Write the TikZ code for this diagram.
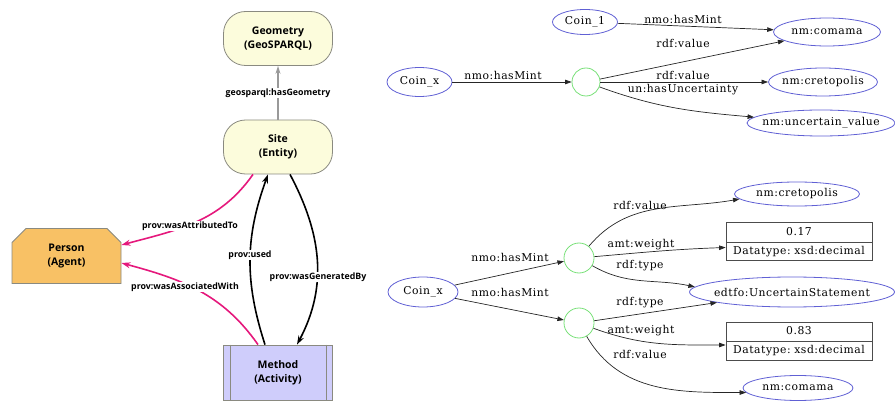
\documentclass[tikz,border=0pt]{standalone}
\usepackage{fontspec}
\setmainfont{DejaVu Serif}[LetterSpace=5]
\newfontfamily\provfont{Open Sans}
\usetikzlibrary{arrows.meta,shapes.misc,shapes.geometric,shapes.multipart}
\frenchspacing

\definecolor{entityfill}{HTML}{FCFCDC}
\definecolor{entitydraw}{HTML}{8A8A80}
\definecolor{agentfill}{HTML}{F8C165}
\definecolor{activityfill}{HTML}{CFCDFB}
\definecolor{provpink}{HTML}{E5187C}
\definecolor{uriblue}{HTML}{6060D4}
\definecolor{bnodegreen}{HTML}{78E078}
\definecolor{edgegray}{HTML}{999999}

% text that does not widen the ellipse around it
\newcommand\uritext[1]{\makebox[0pt]{#1}}

\tikzset{
  provtext/.style={font=\provfont\bfseries\fontsize{10.5}{14}\selectfont, align=center},
  entity/.style={provtext, draw=entitydraw, fill=entityfill, rounded corners=22pt,
    minimum width=109pt, minimum height=54pt, line width=0.8pt},
  agent/.style={provtext, chamfered rectangle, chamfered rectangle corners={north west,north east},
    chamfered rectangle xsep=7pt, chamfered rectangle ysep=7pt,
    draw=entitydraw, fill=agentfill, minimum width=109pt, minimum height=55pt, line width=0.8pt},
  activity/.style={provtext, rectangle, draw=entitydraw, fill=activityfill,
    minimum width=109pt, minimum height=55pt, line width=0.8pt},
  provlbl/.style={font=\provfont\bfseries\fontsize{8.8}{10}\selectfont, fill=white, inner sep=1pt},
  provblack/.style={draw=black, line width=1.6pt, -{Stealth[length=9pt,width=6pt]}},
  provmagenta/.style={draw=provpink, line width=1.6pt, -{Stealth[length=9pt,width=6pt]}},
  geoline/.style={draw=edgegray, line width=1.2pt, -{Stealth[length=8pt,width=5pt]}},
  rdftext/.style={font=\fontsize{10.8}{12}\selectfont},
  uri/.style={rdftext, ellipse, draw=uriblue, line width=0.8pt, inner sep=0pt},
  bnode/.style={circle, draw=bnodegreen, line width=0.8pt, minimum size=28pt, inner sep=0pt},
  literal/.style={rdftext, rectangle split, rectangle split parts=2, draw=black!70, line width=0.7pt,
    text width=138pt, align=center, inner xsep=4pt, inner ysep=3.5pt, text height=9pt, text depth=3pt},
  rel/.style={draw=black!85, line width=0.7pt, -{Triangle[length=6.5pt,width=4.5pt]}},
  rlbl/.style={rdftext, inner sep=0pt},
}

\begin{document}
\begin{tikzpicture}[x=1pt,y=-1pt]
\useasboundingbox (0,0) rectangle (895,401);

% ---------- PROV model ----------
\node[entity] (geom) at (278,38.5) {Geometry\\(GeoSPARQL)};
\node[entity] (site) at (278,147) {Site\\(Entity)};
\node[agent] (person) at (66.5,256) {Person\\(Agent)};
\node[activity] (method) at (278,372.5) {Method\\(Activity)};
\draw[entitydraw, line width=0.8pt] ([xshift=7pt]method.north west) -- ([xshift=7pt]method.south west)
  ([xshift=-7pt]method.north east) -- ([xshift=-7pt]method.south east);

\draw[geoline] (site) -- (geom);
\node[provlbl] (lgeo) at (278,93) {geosparql:hasGeometry};

\draw[provmagenta] ([xshift=-25pt]site.south) to[out=-125,in=15] ([yshift=11pt]person.east);
\draw[provmagenta] ([xshift=-20pt]method.north) to[out=125,in=-15] ([yshift=-7pt]person.east);
\draw[provblack] ([xshift=-13pt]method.north) to[out=108,in=-110] ([xshift=-10pt]site.south);
\draw[provblack] ([xshift=12pt]site.south) to[out=-62,in=62] ([xshift=19pt]method.north);

\node[provlbl] (lattr) at (190,226) {prov:wasAttributedTo};
\node[provlbl] (lassoc) at (185,287) {prov:wasAssociatedWith};
\node[provlbl] (lused) at (250,255) {prov:used};
\node[provlbl] (lgen) at (318,277) {prov:wasGeneratedBy};

% ---------- certain mint ----------
\node[uri, minimum width=65pt, minimum height=25pt] (coin1) at (585,22) {\uritext{Coin\_1}};
\node[uri, minimum width=107pt, minimum height=28pt] (comamaT) at (827,32) {\uritext{nm:comama}};
\node[uri, minimum width=65pt, minimum height=29pt] (coinxT) at (419.5,82) {\uritext{Coin\_x}};
\node[bnode] (bT) at (586,82) {};
\node[uri, minimum width=109pt, minimum height=28pt] (cretT) at (823,82) {\uritext{nm:cretopolis}};
\node[uri, minimum width=148pt, minimum height=26pt] (uncT) at (821,123) {\uritext{nm:uncertain\_value}};

\draw[rel] (coin1) -- (comamaT);
\draw[rel] (coinxT) -- (bT);
\draw[rel] (bT) -- (comamaT);
\draw[rel] (bT) -- (cretT);
\draw[rel] (bT) to[out=-20,in=175] (uncT.175);

\node[rlbl] (l1) at (683,19) {nmo:hasMint};
\node[rlbl] (l2) at (683,43) {rdf:value};
\node[rlbl] (l3) at (503,75) {nmo:hasMint};
\node[rlbl] (l4) at (683,75) {rdf:value};
\node[rlbl] (l5) at (683,90) {un:hasUncertainty};

% ---------- weighted alternatives ----------
\node[uri, minimum width=125pt, minimum height=24pt] (cretB) at (797,194) {\uritext{nm:cretopolis}};
\node[literal] (w017) at (799,241.5) {0.17\nodepart{second}Datatype: xsd:decimal};
\node[uri, minimum width=70pt, minimum height=30pt] (coinxB) at (423,292) {\uritext{Coin\_x}};
\node[bnode, minimum size=30pt] (b1) at (579,258) {};
\node[bnode, minimum size=30pt] (b2) at (579,323) {};
\node[uri, minimum width=205pt, minimum height=30pt] (edtfo) at (792,292) {\uritext{edtfo:UncertainStatement}};
\node[literal] (w083) at (799,341) {0.83\nodepart{second}Datatype: xsd:decimal};
\node[uri, minimum width=110pt, minimum height=25pt] (comamaB) at (798,388) {\uritext{nm:comama}};

\draw[rel] (coinxB) -- (b1);
\draw[rel] (coinxB) -- (b2);
\draw[rel] (b1) to[out=50,in=190] (cretB.185);
\draw[rel] (b1) to[out=5,in=182] ([yshift=-6pt]w017.west);
\draw[rel] (b1) to[out=-30,in=168] (edtfo.177);
\draw[rel] (b2) -- (edtfo.188);
\draw[rel] (b2) to[out=-20,in=180] ([yshift=-4pt]w083.west);
\draw[rel] (b2) to[out=-60,in=180] (comamaB.185);

\node[rlbl] (m1) at (510,257) {nmo:hasMint};
\node[rlbl] (m2) at (510,292) {nmo:hasMint};
\node[rlbl] (m3) at (640,205) {rdf:value};
\node[rlbl] (m4) at (641,245) {amt:weight};
\node[rlbl] (m5) at (640,266) {rdf:type};
\node[rlbl] (m6) at (640,303) {rdf:type};
\node[rlbl] (m7) at (641,331) {amt:weight};
\node[rlbl] (m8) at (640,354) {rdf:value};
\end{tikzpicture}
\end{document}
